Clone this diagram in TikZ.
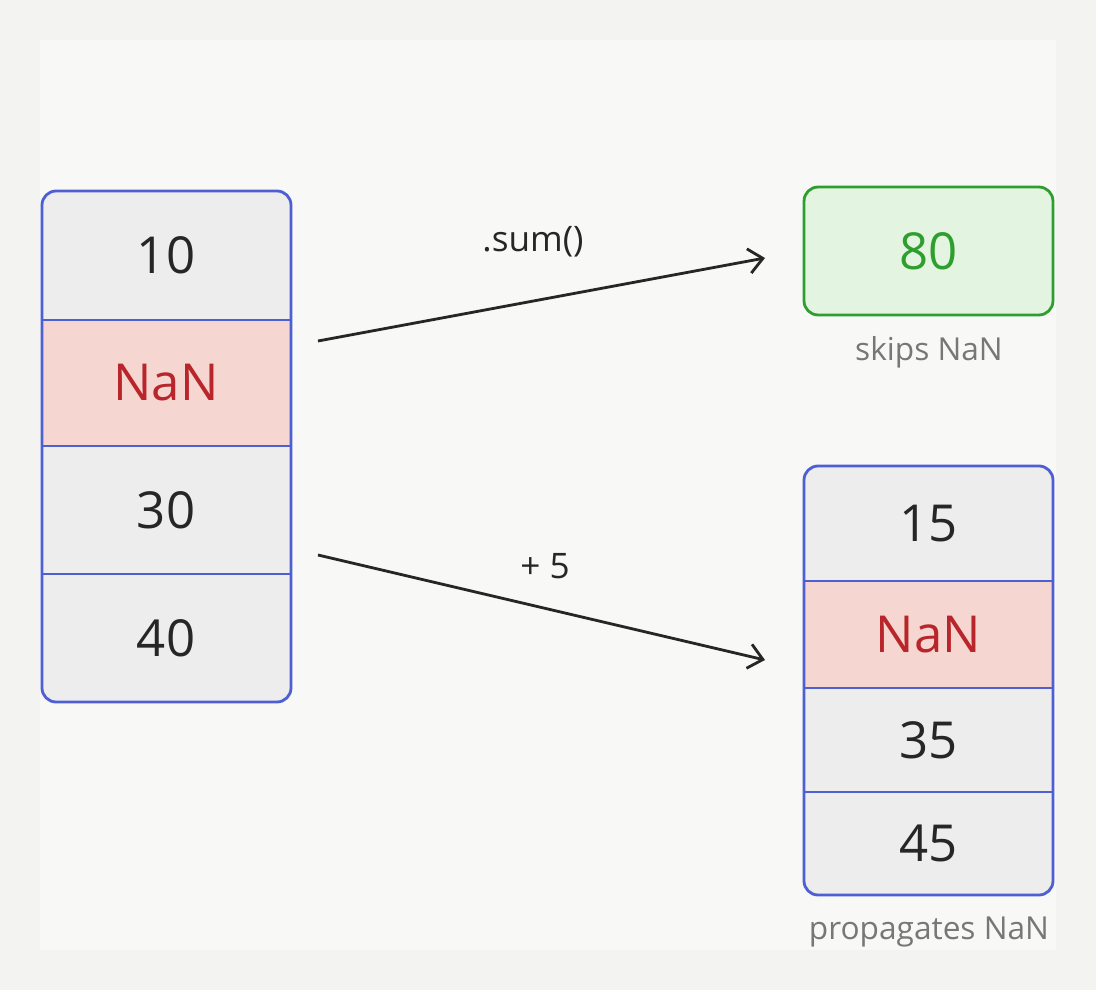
\documentclass[tikz,border=0pt]{standalone}
\usepackage{fontspec}
\setmainfont{Open Sans}
\usetikzlibrary{arrows.meta}
\definecolor{pageBg}{HTML}{F3F3F1}
\definecolor{panelBg}{HTML}{F8F8F7}
\definecolor{cellBg}{HTML}{EDEDED}
\definecolor{nanBg}{HTML}{F6D6D1}
\definecolor{nanTxt}{HTML}{B8262B}
\definecolor{colBlue}{HTML}{4D5FD3}
\definecolor{okGreen}{HTML}{2E9E2E}
\definecolor{okBg}{HTML}{E3F5E0}
\definecolor{noteGray}{HTML}{777777}
\tikzset{
  cell/.style={draw=colBlue, line width=0.6pt, fill=cellBg, minimum width=4.98cm, font=\fontsize{29}{33}\selectfont, text=black!85},
  nan/.style={cell, fill=nanBg, text=nanTxt},
  frame/.style={draw=colBlue, line width=1.6pt, rounded corners=8pt},
  note/.style={text=noteGray, font=\fontsize{18}{21}\selectfont},
  oplabel/.style={font=\fontsize{20}{24}\selectfont, text=black!85},
  flow/.style={-{Straight Barb[length=8pt,width=14pt]}, line width=1.6pt, black!85}
}
\begin{document}
\begin{tikzpicture}[x=0.02cm, y=-0.02cm]
    % background
    \fill[pageBg] (0,0) rectangle (1096,990);
    \fill[panelBg] (40,40) rectangle (1056,950);

    % input column
    \begin{scope}
        \clip[rounded corners=8pt] (42,191) rectangle (291,702);
        \node[cell, minimum height=2.58cm] (in1) at (166,255.5) {10};
        \node[nan, minimum height=2.52cm] (in2) at (166,383) {NaN};
        \node[cell, minimum height=2.56cm] (in3) at (166,510) {30};
        \node[cell, minimum height=2.56cm] (in4) at (166,638) {40};
    \end{scope}
    \draw[frame] (42,191) rectangle (291,702);

    % sum result
    \node[draw=okGreen, line width=1.6pt, rounded corners=8pt, fill=okBg, minimum width=4.98cm, minimum height=2.56cm,
        text=okGreen, font=\fontsize{29}{33}\selectfont] (total) at (928.5,251) {80};
    \node[note] (skip) at (929,352) {skips NaN};

    % output column
    \begin{scope}
        \clip[rounded corners=8pt] (804,466) rectangle (1053,895);
        \node[cell, minimum height=2.30cm] (out1) at (928.5,523.5) {15};
        \node[nan, minimum height=2.14cm] (out2) at (928.5,634.5) {NaN};
        \node[cell, minimum height=2.08cm] (out3) at (928.5,740) {35};
        \node[cell, minimum height=2.06cm] (out4) at (928.5,843.5) {45};
    \end{scope}
    \draw[frame] (804,466) rectangle (1053,895);
    \node[note] (prop) at (929,932) {propagates NaN};

    % operations
    \coordinate (sumFrom) at (318,341);
    \coordinate (sumTo) at (765,258);
    \coordinate (addFrom) at (318,555);
    \coordinate (addTo) at (765,660);
    \draw[flow] (sumFrom) -- (sumTo);
    \draw[flow] (addFrom) -- (addTo);
    \node[oplabel] (sumOp) at (533,242) {.sum()};
    \node[oplabel] (addOp) at (545,566) {+ 5};
\end{tikzpicture}
\end{document}
